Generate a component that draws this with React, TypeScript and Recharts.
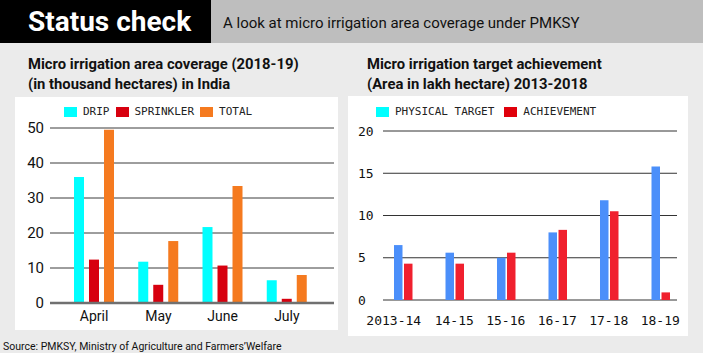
import { BarChart, Bar, XAxis, YAxis, CartesianGrid } from 'recharts'

const months = ['April', 'May', 'June', 'July']
const drip = [36, 11.8, 21.7, 6.5]
const sprinkler = [12.4, 5.2, 10.7, 1.2]
const total = [49.5, 17.7, 33.4, 8.0]
const coverageTicks = [0, 10, 20, 30, 40, 50]

const years = ['2013-14', '14-15', '15-16', '16-17', '17-18', '18-19']
const physicalTarget = [6.5, 5.6, 5.0, 8.0, 11.8, 15.8]
const achievement = [4.3, 4.3, 5.6, 8.3, 10.5, 0.9]
const targetTicks = [0, 5, 10, 15, 20]

const coverageLegend = [
  { name: 'DRIP', color: '#00ffff' },
  { name: 'SPRINKLER', color: '#d7000f' },
  { name: 'TOTAL', color: '#f57a1f' },
]
const targetLegend = [
  { name: 'PHYSICAL TARGET', color: '#00ffff' },
  { name: 'ACHIEVEMENT', color: '#e0000b' },
]

const coverageData = months.map((month, i) => ({
  month,
  drip: drip[i],
  sprinkler: sprinkler[i],
  total: total[i],
}))

const targetData = years.map((year, i) => ({
  year,
  target: physicalTarget[i],
  achievement: achievement[i],
}))

const SANS = 'Roboto, sans-serif'
const MONO = "'DejaVu Sans Mono', monospace"

function Legend({ items, gap, left }: { items: { name: string; color: string }[]; gap: number; left: number }) {
  return (
    <div
      style={{
        position: 'absolute',
        left,
        top: 106,
        display: 'flex',
        alignItems: 'center',
        gap,
        fontFamily: MONO,
        fontSize: 11,
        color: '#222',
        lineHeight: '12px',
      }}
    >
      {items.map((it) => (
        <div key={it.name} style={{ display: 'flex', alignItems: 'center', gap: 6 }}>
          <span style={{ width: 13, height: 10, background: it.color, display: 'inline-block' }} />
          <span>{it.name}</span>
        </div>
      ))}
    </div>
  )
}

function CoverageChart() {
  return (
    <BarChart
      width={323}
      height={233}
      data={coverageData}
      margin={{ top: 31, right: 4, bottom: 0, left: 0 }}
      barSize={10}
      barGap={5}
    >
      <CartesianGrid vertical={false} stroke="#3c3c3c" />
      <XAxis
        dataKey="month"
        height={27}
        padding={{ left: 12, right: 15 }}
        axisLine={{ stroke: '#707070', strokeWidth: 2.5 }}
        tickLine={false}
        tick={(p: any) => (
          <text x={p.x} y={219} textAnchor="middle" dominantBaseline="central" fontFamily={SANS} fontSize={14} fill="#111">
            {p.payload.value}
          </text>
        )}
      />
      <YAxis
        width={35}
        domain={[0, 50]}
        ticks={coverageTicks}
        axisLine={false}
        tickLine={false}
        tick={(p: any) => (
          <text x={29} y={p.y} textAnchor="end" dominantBaseline="central" fontFamily={SANS} fontSize={15} fill="#111">
            {p.payload.value}
          </text>
        )}
      />
      <Bar dataKey="drip" fill="#00ffff" isAnimationActive={false} />
      <Bar dataKey="sprinkler" fill="#d7000f" isAnimationActive={false} />
      <Bar dataKey="total" fill="#f57a1f" isAnimationActive={false} />
    </BarChart>
  )
}

function TargetChart() {
  return (
    <BarChart
      width={340}
      height={240}
      data={targetData}
      margin={{ top: 35, right: 2, bottom: 0, left: 0 }}
      barSize={8.5}
      barGap={1.5}
    >
      <CartesianGrid vertical={false} stroke="#333" x={35} width={294} />
      <XAxis
        dataKey="year"
        height={36}
        axisLine={false}
        tickLine={false}
        tick={(p: any) => (
          <text
            x={p.x + (p.index === 0 ? -9 : 0)}
            y={224}
            textAnchor="middle"
            dominantBaseline="central"
            fontFamily={MONO}
            fontSize={13}
            fill="#111"
          >
            {p.payload.value}
          </text>
        )}
      />
      <YAxis
        width={29}
        domain={[0, 20]}
        ticks={targetTicks}
        axisLine={false}
        tickLine={false}
        tick={(p: any) => (
          <text x={10} y={p.y} textAnchor="start" dominantBaseline="central" fontFamily={MONO} fontSize={13} fill="#111">
            {p.payload.value}
          </text>
        )}
      />
      <Bar dataKey="target" fill="#4b8ffa" isAnimationActive={false} />
      <Bar dataKey="achievement" fill="#f0202e" isAnimationActive={false} />
    </BarChart>
  )
}

export default function App() {
  return (
    <div style={{ position: 'absolute', left: 0, top: 0, width: 703, height: 353, background: '#ebebeb', overflow: 'hidden' }}>
      <div
        style={{
          position: 'absolute',
          left: 0,
          top: 0,
          width: 211,
          height: 43,
          background: '#000',
          color: '#fff',
          fontFamily: SANS,
          fontWeight: 700,
          fontSize: 28,
          lineHeight: '44px',
          paddingLeft: 28,
          boxSizing: 'border-box',
          whiteSpace: 'nowrap',
        }}
      >
        Status check
      </div>
      <div
        style={{
          position: 'absolute',
          left: 211,
          top: 0,
          width: 492,
          height: 43,
          background: '#bebebe',
          color: '#111',
          fontFamily: SANS,
          fontSize: 15,
          lineHeight: '46px',
          paddingLeft: 12,
          boxSizing: 'border-box',
          whiteSpace: 'nowrap',
        }}
      >
        A look at micro irrigation area coverage under PMKSY
      </div>

      <div style={{ position: 'absolute', left: 28, top: 54, fontFamily: SANS, fontWeight: 700, fontSize: 14.8, lineHeight: '20px', color: '#111', whiteSpace: 'nowrap' }}>
        Micro irrigation area coverage (2018-19)
        <br />
        (in thousand hectares) in India
      </div>
      <div style={{ position: 'absolute', left: 367, top: 54, fontFamily: SANS, fontWeight: 700, fontSize: 14.8, lineHeight: '20px', color: '#111', whiteSpace: 'nowrap' }}>
        Micro irrigation target achievement
        <br />
        (Area in lakh hectare) 2013-2018
      </div>

      <div style={{ position: 'absolute', left: 15, top: 97, width: 323, height: 233, background: '#fff' }}>
        <CoverageChart />
      </div>
      <div style={{ position: 'absolute', left: 348, top: 96, width: 340, height: 240, background: '#fff' }}>
        <TargetChart />
      </div>

      <Legend items={coverageLegend} gap={6} left={64} />
      <Legend items={targetLegend} gap={10} left={376} />

      <div style={{ position: 'absolute', left: 3, top: 339, fontFamily: SANS, fontSize: 10.5, lineHeight: '16px', color: '#111', whiteSpace: 'nowrap' }}>
        Source: PMKSY, Ministry of Agriculture and Farmers’Welfare
      </div>
    </div>
  )
}
